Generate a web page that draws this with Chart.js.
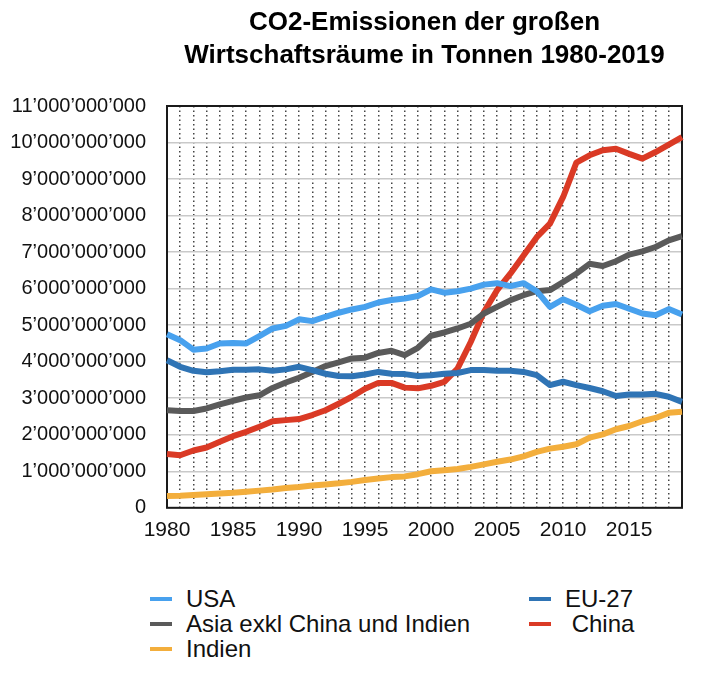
<!DOCTYPE html>
<html lang="de">
<head>
<meta charset="utf-8">
<title>CO2-Emissionen</title>
<script src="https://cdn.jsdelivr.net/npm/chart.js@4.4.1/dist/chart.umd.min.js"></script>
<style>
  html, body { margin: 0; padding: 0; background: #fff; }
  body { width: 720px; height: 682px; position: relative; overflow: hidden;
         font-family: "Liberation Sans", Arial, Helvetica, sans-serif; }
  #wrap { position: absolute; left: 0; top: 0; width: 720px; height: 560px; }
  #legend { position: absolute; left: 150px; top: 586px;
            display: grid; grid-template-columns: 379px auto;
            font-size: 24px; line-height: 25px; color: #111; }
  .item { display: flex; align-items: center; white-space: pre; }
  .swatch { width: 22px; height: 4px; margin-right: 14px; }
</style>
</head>
<body>
<div id="wrap"><canvas id="co2Chart"></canvas></div>
<div id="legend"></div>
<script>
// Jahre (Kategorien)
const years = [1980, 1981, 1982, 1983, 1984, 1985, 1986, 1987, 1988, 1989,
               1990, 1991, 1992, 1993, 1994, 1995, 1996, 1997, 1998, 1999,
               2000, 2001, 2002, 2003, 2004, 2005, 2006, 2007, 2008, 2009,
               2010, 2011, 2012, 2013, 2014, 2015, 2016, 2017, 2018, 2019];

// Emissionen in Milliarden Tonnen
const usa = [4.75, 4.59, 4.33, 4.36, 4.50, 4.51, 4.50, 4.70, 4.91, 4.98,
             5.16, 5.11, 5.23, 5.34, 5.43, 5.50, 5.62, 5.69, 5.73, 5.80,
             5.98, 5.89, 5.93, 6.00, 6.11, 6.15, 6.07, 6.15, 5.93, 5.50,
             5.71, 5.56, 5.38, 5.53, 5.58, 5.45, 5.32, 5.27, 5.44, 5.29];
const eu27 = [4.04, 3.86, 3.75, 3.71, 3.74, 3.78, 3.78, 3.79, 3.75, 3.79,
              3.86, 3.77, 3.67, 3.61, 3.60, 3.65, 3.72, 3.67, 3.66, 3.61,
              3.63, 3.67, 3.69, 3.77, 3.77, 3.75, 3.75, 3.72, 3.63, 3.36,
              3.45, 3.36, 3.28, 3.19, 3.06, 3.10, 3.10, 3.12, 3.04, 2.90];
const asia = [2.67, 2.65, 2.65, 2.72, 2.83, 2.93, 3.02, 3.08, 3.28, 3.43,
              3.56, 3.72, 3.88, 3.98, 4.09, 4.11, 4.24, 4.30, 4.18, 4.38,
              4.71, 4.80, 4.91, 5.04, 5.32, 5.50, 5.68, 5.82, 5.93, 5.96,
              6.18, 6.41, 6.68, 6.62, 6.75, 6.93, 7.02, 7.14, 7.32, 7.44];
const china = [1.47, 1.44, 1.57, 1.65, 1.81, 1.96, 2.08, 2.22, 2.37, 2.40,
               2.43, 2.54, 2.67, 2.85, 3.04, 3.26, 3.42, 3.42, 3.29, 3.27,
               3.34, 3.45, 3.81, 4.54, 5.36, 5.96, 6.41, 6.91, 7.41, 7.78,
               8.51, 9.45, 9.65, 9.79, 9.83, 9.69, 9.56, 9.74, 9.94, 10.15];
const indien = [0.32, 0.33, 0.35, 0.37, 0.39, 0.41, 0.44, 0.47, 0.50, 0.54,
                0.57, 0.61, 0.64, 0.67, 0.71, 0.76, 0.80, 0.84, 0.86, 0.92,
                1.00, 1.03, 1.06, 1.12, 1.19, 1.26, 1.32, 1.41, 1.53, 1.62,
                1.67, 1.74, 1.92, 2.01, 2.15, 2.24, 2.37, 2.46, 2.60, 2.63];

const seriesNames = ['USA', 'EU-27', 'Asia exkl China und Indien', ' China', 'Indien'];
const seriesData = [usa, eu27, asia, china, indien];
const seriesColors = ['#48a1ee', '#2f74b5', '#5a5a5a', '#da3a25', '#f3ae3c'];

const titleLines = ['CO2-Emissionen der großen', 'Wirtschaftsräume in Tonnen 1980-2019'];
const UNIT = 1e9;
const FONT = '"Liberation Sans", Arial, Helvetica, sans-serif';

// Tausendertrennzeichen mit Apostroph
function formatTonnes(v) {
  return String(Math.round(v * UNIT)).replace(/\B(?=(\d{3})+(?!\d))/g, '\u2019');
}

// Rahmen um die Zeichenfläche
const frame = {
  id: 'frame',
  beforeDatasetsDraw(chart) {
    const { ctx, chartArea: a } = chart;
    ctx.save();
    ctx.strokeStyle = '#1a1a1a';
    ctx.lineWidth = 2;
    ctx.strokeRect(a.left, a.top, a.right - a.left, a.bottom - a.top);
    ctx.restore();
  }
};

const chart = new Chart(document.getElementById('co2Chart'), {
  type: 'line',
  data: {
    labels: years,
    datasets: seriesNames.map((name, i) => ({
      label: name.trim(),
      data: seriesData[i],
      borderColor: seriesColors[i],
      backgroundColor: seriesColors[i],
      borderWidth: 6,
      borderJoinStyle: 'round',
      pointRadius: 0,
      tension: 0,
      fill: false
    }))
  },
  options: {
    responsive: true,
    maintainAspectRatio: false,
    animation: false,
    layout: { padding: { left: 0, right: 38, top: 0, bottom: 7 } },
    scales: {
      x: {
        grid: { color: '#444', lineWidth: 1.5, drawTicks: false },
        border: { display: false, dash: [1.5, 3] },
        ticks: {
          autoSkip: false, maxRotation: 0, padding: 10, color: '#111',
          font: { family: FONT, size: 21 },
          callback(value) {
            const y = years[value];
            return y % 5 === 0 ? String(y) : '';
          }
        }
      },
      y: {
        min: 0, max: 11,
        afterFit(scale) { scale.width = 167; },
        grid: { color: '#c9c9c9', lineWidth: 1.5, drawTicks: false },
        border: { display: false },
        ticks: {
          stepSize: 1, padding: 21, color: '#111',
          font: { family: FONT, size: 20 },
          callback: v => formatTonnes(v)
        }
      }
    },
    plugins: {
      legend: { display: false },
      tooltip: { enabled: false },
      title: {
        display: true,
        fullSize: false,
        text: titleLines,
        color: '#000',
        font: { family: FONT, size: 26, weight: 'bold', lineHeight: 1.25 },
        padding: { top: 7, bottom: 34 }
      }
    }
  },
  plugins: [frame]
});

// Legende in zwei Spalten wie im Original
const legend = document.getElementById('legend');
chart.data.datasets.forEach((ds, i) => {
  const item = document.createElement('div');
  item.className = 'item';
  const sw = document.createElement('span');
  sw.className = 'swatch';
  sw.style.background = ds.borderColor;
  const txt = document.createElement('span');
  txt.textContent = seriesNames[i];
  item.appendChild(sw);
  item.appendChild(txt);
  legend.appendChild(item);
});
</script>
</body>
</html>
